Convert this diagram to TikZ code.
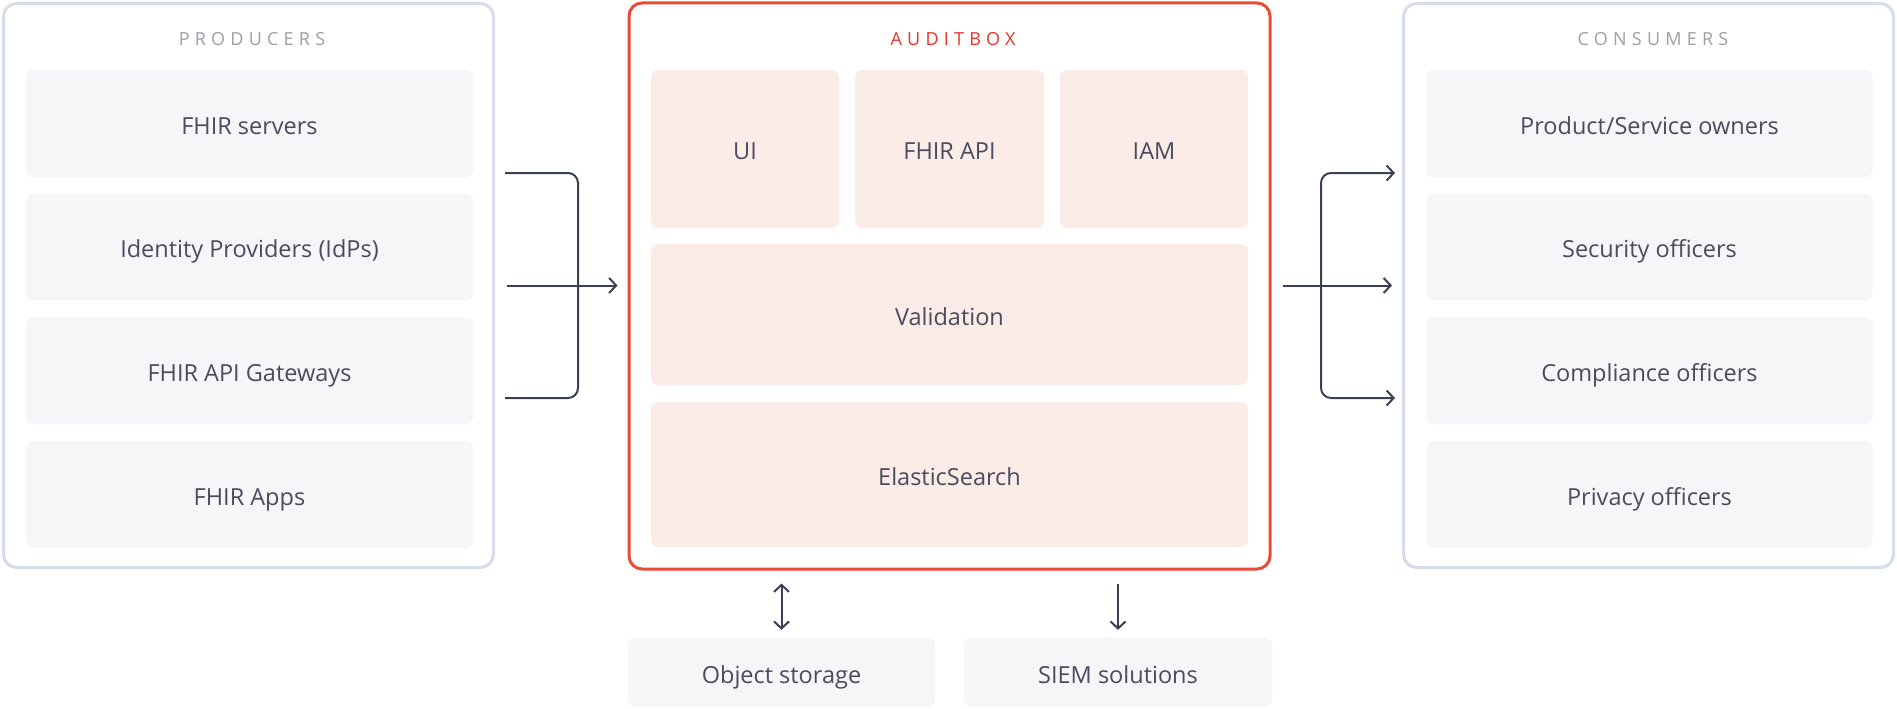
\documentclass[tikz,border=0pt]{standalone}
\usepackage{fontspec}
\setmainfont{Open Sans}
\newfontfamily\spacedfont[LetterSpace=29]{Open Sans}
\usetikzlibrary{arrows.meta}
\definecolor{panelc}{HTML}{D6DDE8}
\definecolor{boxgray}{HTML}{F5F6F8}
\definecolor{boxpink}{HTML}{FBECE8}
\definecolor{redborder}{HTML}{EA4B36}
\definecolor{redtitle}{HTML}{E7332B}
\definecolor{txt}{HTML}{4A4C5E}
\definecolor{ttlgray}{HTML}{9C9FAA}
\definecolor{arrowc}{HTML}{3A3F54}
\begin{document}
\begin{tikzpicture}[x=1pt,y=-1pt,
  panel/.style={draw=panelc, line width=3pt, rounded corners=13pt, fill=white, inner sep=0pt},
  redpanel/.style={panel, draw=redborder},
  gbox/.style={fill=boxgray, rounded corners=7pt, inner sep=0pt, text=txt, text height=21pt, text depth=0pt, font=\fontsize{23.5}{28}\selectfont},
  pbox/.style={gbox, fill=boxpink},
  ttl/.style={font=\spacedfont\fontsize{18}{22}\selectfont, text=ttlgray, inner sep=0pt, text height=13pt, text depth=0pt},
  conn/.style={draw=arrowc, line width=2pt, rounded corners=10pt},
  tip/.style={-{Straight Barb[length=7pt,width=15pt]}},
  dtip/.style={{Straight Barb[length=7pt,width=15pt]}-{Straight Barb[length=7pt,width=15pt]}}
]
\useasboundingbox (0,0) rectangle (1897,709);

% panels
\node[panel, minimum width=490pt, minimum height=564pt] (prod) at (248.5,285.5) {};
\node[panel, minimum width=490pt, minimum height=564pt] (cons) at (1648.5,285.5) {};
\node[redpanel, minimum width=641pt, minimum height=566pt] (audit) at (949.5,286) {};

% titles
\node[ttl] (prodttl) at (252,39) {PRODUCERS};
\node[ttl] (consttl) at (1653,39) {CONSUMERS};
\node[ttl, text=redtitle] (auditttl) at (953,39) {AUDITBOX};

% producers
\node[gbox, minimum width=447pt, minimum height=107pt] (p1) at (249.5,123.5) {FHIR servers};
\node[gbox, minimum width=447pt, minimum height=107pt] (p2) at (249.5,247.2) {Identity Providers (IdPs)};
\node[gbox, minimum width=447pt, minimum height=107pt] (p3) at (249.5,370.8) {FHIR API Gateways};
\node[gbox, minimum width=447pt, minimum height=107pt] (p4) at (249.5,494.5) {FHIR Apps};

% consumers
\node[gbox, minimum width=446pt, minimum height=107pt] (c1) at (1649.5,123.5) {Product/Service owners};
\node[gbox, minimum width=446pt, minimum height=107pt] (c2) at (1649.5,247.2) {Security officers};
\node[gbox, minimum width=446pt, minimum height=107pt] (c3) at (1649.5,370.8) {Compliance officers};
\node[gbox, minimum width=446pt, minimum height=107pt] (c4) at (1649.5,494.5) {Privacy officers};

% auditbox contents
\node[pbox, minimum width=188pt, minimum height=158pt] (ui) at (745,149) {UI};
\node[pbox, minimum width=189pt, minimum height=158pt] (api) at (949.5,149) {FHIR API};
\node[pbox, minimum width=188pt, minimum height=158pt] (iam) at (1154,149) {IAM};
\node[pbox, minimum width=597pt, minimum height=141pt] (val) at (949.5,314.5) {Validation};
\node[pbox, minimum width=597pt, minimum height=145pt] (es) at (949.5,474.5) {ElasticSearch};

% bottom
\node[gbox, minimum width=307pt, minimum height=69pt] (os) at (781.5,672.5) {Object storage};
\node[gbox, minimum width=308pt, minimum height=69pt] (siem) at (1118,672.5) {SIEM solutions};

% left connectors
\coordinate (pa) at (505,173);
\coordinate (pc) at (505,398);
\coordinate (lj) at (578,398);
\coordinate (pm) at (507,285.5);
\draw[conn] (pa) -| (lj) -- (pc);
\draw[conn, tip, shorten >=10pt] (pm) -- (pm -| audit.west);

% right connectors
\coordinate (rj) at (1321,285.5);
\coordinate (ra) at (1395,173);
\coordinate (rc) at (1395,398);
\draw[conn, tip] (rj) |- (ra);
\draw[conn, tip] (rj) |- (rc);
\draw[conn, tip, shorten <=11pt, shorten >=10pt] (audit.east |- rj) -- (cons.west |- rj);

% bottom connectors
\draw[conn, dtip, shorten <=13pt, shorten >=8pt] (os.north |- audit.south) -- (os.north);
\draw[conn, tip, shorten <=13pt, shorten >=8pt] (siem.north |- audit.south) -- (siem.north);
\end{tikzpicture}
\end{document}
